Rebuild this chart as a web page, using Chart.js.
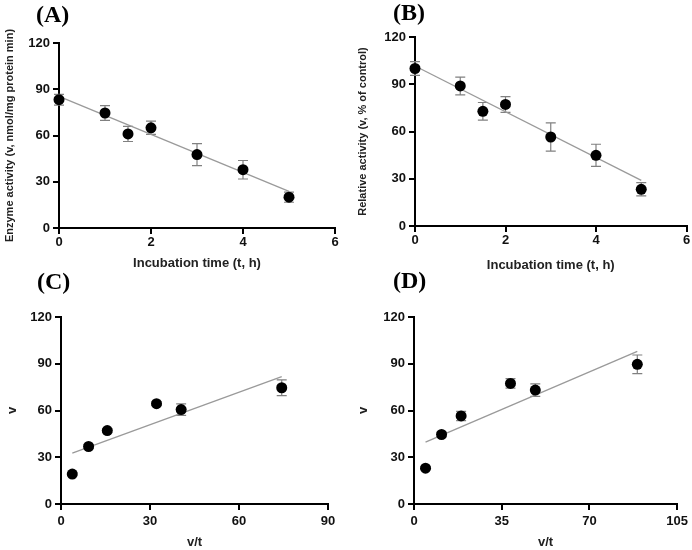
<!DOCTYPE html>
<html>
<head>
<meta charset="utf-8">
<script src="https://cdn.jsdelivr.net/npm/chart.js@4.4.1/dist/chart.umd.min.js"></script>
<style>
  html, body { margin: 0; padding: 0; background: #fff; }
  body { width: 692px; height: 550px; position: relative; overflow: hidden; }
  .panel { position: absolute; width: 346px; height: 275px; }
  .panel canvas { position: absolute; left: 0; top: 0; }
  .lbl { position: absolute; font-family: 'Liberation Serif', 'Times New Roman', serif; font-weight: bold; font-size: 24px; line-height: 24px; color: #000; white-space: nowrap; }
</style>
</head>
<body>
<div class="panel" style="left:0;top:0"><canvas id="cA" width="346" height="275"></canvas></div>
<div class="panel" style="left:346px;top:0"><canvas id="cB" width="346" height="275"></canvas></div>
<div class="panel" style="left:0;top:275px"><canvas id="cC" width="346" height="275"></canvas></div>
<div class="panel" style="left:346px;top:275px"><canvas id="cD" width="346" height="275"></canvas></div>
<div class="lbl" style="left:36px;top:2px">(A)</div>
<div class="lbl" style="left:393px;top:0px">(B)</div>
<div class="lbl" style="left:37px;top:269px">(C)</div>
<div class="lbl" style="left:393px;top:268px">(D)</div>
<script>
// ---- Data ----
const panelLabels = ['(A)', '(B)', '(C)', '(D)'];

// Panel A: enzyme activity vs incubation time
const timeA = [0, 1, 1.5, 2, 3, 4, 5];
const activityA = [83.2, 74.6, 61.0, 65.0, 47.6, 37.8, 20.0];
const errorA = [3.5, 4.8, 4.9, 4.3, 7.1, 6.0, 3.3];
const fitXA = [0, 5];
const fitYA = [85.4, 23.8];

// Panel B: relative activity vs incubation time
const timeB = [0, 1, 1.5, 2, 3, 4, 5];
const relativeB = [100.0, 88.9, 72.8, 77.2, 56.5, 44.9, 23.3];
const errorB = [4.4, 5.6, 5.6, 5.0, 9.0, 7.0, 4.2];
const fitXB = [0, 5];
const fitYB = [101.6, 29.0];

// Panel C: v vs v/t (from A)
const vtC = [3.8, 9.3, 15.6, 32.2, 40.5, 74.4];
const vC = [19.2, 36.9, 47.1, 64.4, 60.6, 74.6];
const errorC = [1.0, 1.2, 1.2, 1.2, 3.7, 5.0];
const fitXC = [3.8, 74.4];
const fitYC = [32.6, 81.7];

// Panel D: v vs v/t (from B)
const vtD = [4.6, 11.0, 18.8, 38.5, 48.4, 89.1];
const vD = [23.0, 44.6, 56.5, 77.4, 73.1, 89.6];
const errorD = [1.0, 1.5, 3.0, 3.0, 4.0, 6.0];
const fitXD = [4.6, 89.1];
const fitYD = [39.7, 97.9];

// Axis ticks
const yTicksAll = [0, 30, 60, 90, 120];
const xTicksAB = [0, 2, 4, 6];
const xTicksC = [0, 30, 60, 90];
const xTicksD = [0, 35, 70, 105];

// Axis titles
const xTitleAB = 'Incubation time (t, h)';
const yTitleA = 'Enzyme activity (v, nmol/mg protein min)';
const yTitleB = 'Relative activity (v, % of control)';
const xTitleCD = 'v/t';
const yTitleCD = 'v';

// ---- Error bar plugin (uses chart scales) ----
const errorBarPlugin = {
  id: 'errorBars',
  beforeDatasetsDraw(chart) {
    const ctx = chart.ctx;
    const xs = chart.scales.x, ys = chart.scales.y;
    chart.data.datasets.forEach(ds => {
      if (!ds.errors) return;
      ctx.save();
      ctx.strokeStyle = '#808080';
      ctx.lineWidth = 1.2;
      ds.data.forEach((p, i) => {
        const e = ds.errors[i];
        if (!e) return;
        const px = xs.getPixelForValue(p.x);
        const pTop = ys.getPixelForValue(p.y + e);
        const pBot = ys.getPixelForValue(p.y - e);
        const cap = 5;
        ctx.beginPath();
        ctx.moveTo(px, pTop); ctx.lineTo(px, pBot);
        ctx.moveTo(px - cap, pTop); ctx.lineTo(px + cap, pTop);
        ctx.moveTo(px - cap, pBot); ctx.lineTo(px + cap, pBot);
        ctx.stroke();
      });
      ctx.restore();
    });
  }
};

const FONT = "'Liberation Sans', Arial, sans-serif";

function pts(xs, ys) { return xs.map((x, i) => ({ x: x, y: ys[i] })); }

function makeChart(id, cfg) {
  const xTickVals = cfg.xTicks;
  const yTickVals = yTicksAll;
  new Chart(document.getElementById(id), {
    type: 'scatter',
    data: {
      datasets: [
        {
          data: pts(cfg.fitX, cfg.fitY),
          showLine: true,
          borderColor: '#9a9a9a',
          borderWidth: 1.3,
          pointRadius: 0,
          fill: false,
          clip: false,
          order: 2
        },
        {
          data: pts(cfg.x, cfg.y),
          errors: cfg.err,
          backgroundColor: '#000',
          borderColor: '#000',
          pointRadius: 5.5,
          pointHoverRadius: 5.5,
          borderWidth: 0,
          clip: false,
          order: 1
        }
      ]
    },
    options: {
      responsive: false,
      animation: false,
      devicePixelRatio: 1,
      layout: { padding: { left: 0, right: cfg.padR, top: cfg.padT, bottom: 0 } },
      plugins: { legend: { display: false }, tooltip: { enabled: false } },
      scales: {
        x: {
          type: 'linear',
          min: xTickVals[0],
          max: xTickVals[xTickVals.length - 1],
          afterBuildTicks: s => { s.ticks = xTickVals.map(v => ({ value: v })); },
          afterFit: s => { s.height = cfg.xH; },
          ticks: { color: '#111', padding: cfg.xTickPad, font: { family: FONT, size: 13, weight: 'bold' }, maxRotation: 0, autoSkip: false },
          grid: { display: true, drawOnChartArea: false, drawTicks: true, tickLength: 6, color: '#000', lineWidth: 2 },
          border: { display: true, color: '#000', width: 2 },
          title: { display: true, text: cfg.xTitle, color: '#222', font: { family: FONT, size: 13, weight: 'bold' }, padding: { top: 0, bottom: cfg.xTitlePad } }
        },
        y: {
          type: 'linear',
          min: yTickVals[0],
          max: yTickVals[yTickVals.length - 1],
          afterBuildTicks: s => { s.ticks = yTickVals.map(v => ({ value: v })); },
          afterFit: s => { s.width = cfg.yW; },
          ticks: { color: '#111', padding: 3, font: { family: FONT, size: 13, weight: 'bold' }, autoSkip: false },
          grid: { display: true, drawOnChartArea: false, drawTicks: true, tickLength: 6, color: '#000', lineWidth: 2 },
          border: { display: true, color: '#000', width: 2 },
          title: { display: true, text: cfg.yTitle, color: '#222', font: { family: FONT, size: cfg.yTitleSize, weight: 'bold' }, padding: { top: cfg.yTitlePad, bottom: 0 } }
        }
      }
    },
    plugins: [errorBarPlugin]
  });
}

makeChart('cA', { x: timeA, y: activityA, err: errorA, fitX: fitXA, fitY: fitYA, xTicks: xTicksAB,
  xTitle: xTitleAB, yTitle: yTitleA, yTitleSize: 11, padR: 11, padT: 43, yW: 59, xH: 47, xTickPad: 1, xTitlePad: 4, yTitlePad: 3 });
makeChart('cB', { x: timeB, y: relativeB, err: errorB, fitX: fitXB, fitY: fitYB, xTicks: xTicksAB,
  xTitle: xTitleAB, yTitle: yTitleB, yTitleSize: 11, padR: 5, padT: 37, yW: 69, xH: 49, xTickPad: 1, xTitlePad: 2, yTitlePad: 10 });
makeChart('cC', { x: vtC, y: vC, err: errorC, fitX: fitXC, fitY: fitYC, xTicks: xTicksC,
  xTitle: xTitleCD, yTitle: yTitleCD, yTitleSize: 13, padR: 18, padT: 42, yW: 61, xH: 46, xTickPad: 4, xTitlePad: 0, yTitlePad: 5 });
makeChart('cD', { x: vtD, y: vD, err: errorD, fitX: fitXD, fitY: fitYD, xTicks: xTicksD,
  xTitle: xTitleCD, yTitle: yTitleCD, yTitleSize: 13, padR: 12, padT: 42, yW: 68, xH: 46, xTickPad: 4, xTitlePad: 0, yTitlePad: 10 });
</script>
</body>
</html>
